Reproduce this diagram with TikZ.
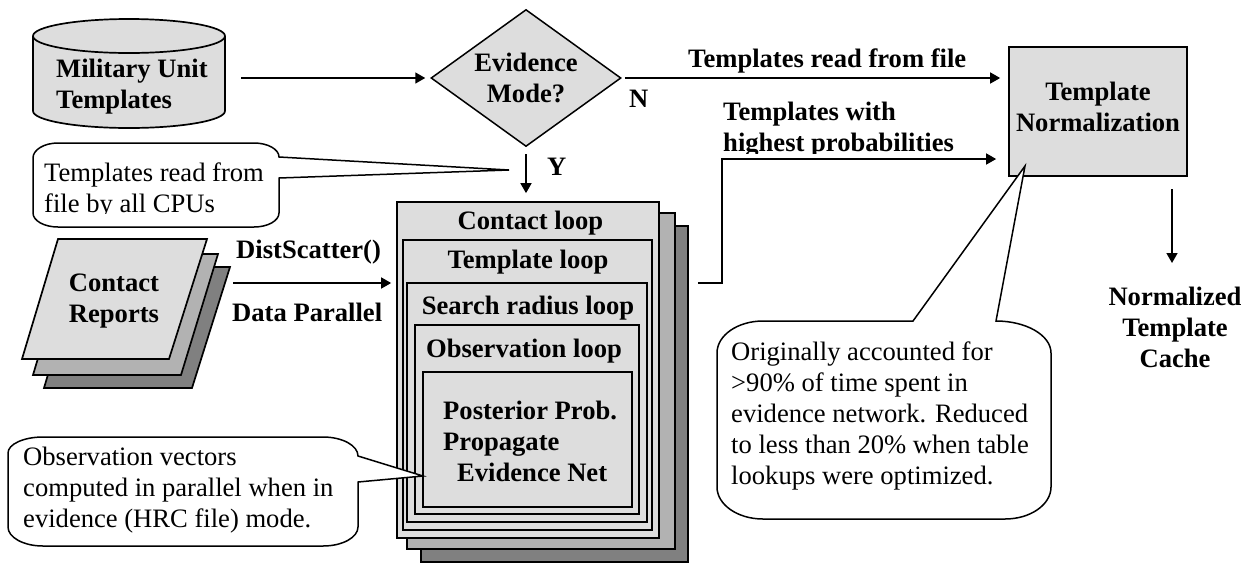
\documentclass[tikz,border=0pt]{standalone}
\usepackage{fontspec}
\setmainfont{Liberation Serif}
\usetikzlibrary{arrows.meta,shapes.geometric}
\tikzset{
  shape box/.style={draw=black,line width=1.7pt,fill=#1,inner sep=0pt},
  shape box/.default=boxgrey,
  bold text/.style={inner sep=0pt,font=\fontsize{26.6}{31}\selectfont\bfseries},
  plain text/.style={inner sep=0pt,font=\fontsize{26.6}{31}\selectfont},
  flow/.style={draw=black,line width=1.6pt,-{Triangle[length=10pt,width=11pt]}},
  callout/.style={draw=black,line width=1.5pt,fill=white,line join=miter},
  stack/.style={draw=black,line width=1.7pt,line join=miter}
}
\definecolor{boxgrey}{HTML}{DDDDDD}
\definecolor{midgrey}{HTML}{B2B2B2}
\definecolor{darkgrey}{HTML}{808080}
\newcommand{\sizedbox}[6]{% name, x1, y1, x2, y2, fill
  \node[shape box=#6,minimum width={(#4-#2)*1pt},minimum height={(#5-#3)*1pt},anchor=center]
    (#1) at ({(#2+#4)/2},{(#3+#5)/2}) {};}
\begin{document}
\begin{tikzpicture}[x=1pt,y=-1pt]
\useasboundingbox (0,0) rectangle (1249,563);

% database
\draw[stack,fill=boxgrey] (33,36) -- (33,111) arc[start angle=180,end angle=90,x radius=96,y radius=17]
  arc[start angle=90,end angle=0,x radius=96,y radius=17] -- (225,36)
  arc[start angle=360,end angle=180,x radius=96,y radius=17] -- cycle;
\draw[stack] (33,36) arc[start angle=180,end angle=0,x radius=96,y radius=17];
\node[bold text,align=left,anchor=north west] (mut) at (56,59) {Military Unit\\Templates};

% decision
\node[draw=black,line width=1.5pt,fill=boxgrey,diamond,aspect=1.39,minimum width=190pt,minimum height=137pt,inner sep=0pt,
      font=\fontsize{26.6}{31}\selectfont\bfseries,align=center] (dia) at (526,78) {Evidence\\Mode?};

% normalisation
\sizedbox{tn}{1009}{47}{1187}{176}{boxgrey}
\node[bold text,align=center,anchor=north] (tntext) at (1098,82) {Template\\Normalization};

% report stack
\draw[stack,fill=darkgrey] (80,267) -- (230,267) -- (192,388) -- (44,388) -- cycle;
\draw[stack,fill=midgrey] (69,254) -- (218,254) -- (181,375) -- (33,375) -- cycle;
\draw[stack,fill=boxgrey] (58,239) -- (207,239) -- (169,359) -- (22,359) -- cycle;
\node[bold text,align=center,anchor=north] (reports) at (114,274) {Contact\\Reports};

% nested loops
\sizedbox{layerc}{421}{226}{688}{562}{darkgrey}
\sizedbox{layerb}{407}{213}{675}{549}{midgrey}
\sizedbox{contact}{397}{202}{659}{538}{boxgrey}
\sizedbox{template}{403}{240}{652}{530}{boxgrey}
\sizedbox{search}{407}{283}{647}{522}{boxgrey}
\sizedbox{observation}{415}{325}{639}{514}{boxgrey}
\sizedbox{posterior}{423}{372}{632}{507}{boxgrey}
\node[bold text,anchor=base] (tcontact) at (530.5,229) {Contact loop};
\node[bold text,anchor=base] (ttemplate) at (528,268) {Template loop};
\node[bold text,anchor=base] (tsearch) at (528,314) {Search radius loop};
\node[bold text,anchor=base] (tobs) at (524,357) {Observation loop};
\node[bold text,align=left,anchor=north west] (tpost) at (443,401) {Posterior Prob.\\Propagate\\\hspace*{14pt}Evidence Net};

% connectors
\coordinate (mutout) at (241,78);
\coordinate (loopout) at (722,283);
\coordinate (loopup) at (722,159);
\coordinate (tnout) at (1172,189);
\coordinate (tnend) at (1172,263);
\coordinate (scatter) at (233,283);
\draw[flow,shorten >=5pt] (mutout) -- (dia.west);
\draw[flow,shorten <=3pt,shorten >=8pt] (dia.east) -- (dia.east -| tn.west);
\draw[flow,shorten <=7pt,shorten >=8pt] (dia.south) -- (dia.south |- contact.north);
\draw[flow,shorten <=9pt,shorten >=12pt] (layerc.east |- loopout) -- (loopout) -- (loopup) -- (loopup -| tn.west);
\draw[flow] (tnout) -- (tnend);
\draw[flow,shorten >=5pt] (scatter) -- (scatter -| contact.west);

% connector labels
\node[bold text,anchor=base west] (lfile) at (688,67) {Templates read from file};
\node[bold text,anchor=base west] (ln) at (629,107) {N};
\node[bold text,anchor=base west] (ly) at (547,175) {Y};
\begin{scope}
  \clip (700,90) rectangle (1000,153.5);
  \node[bold text,align=left,anchor=north west] (lhigh) at (723,102) {Templates with\\highest probabilities};
\end{scope}
\node[bold text,anchor=base west] (ldist) at (236,258) {DistScatter()};
\node[bold text,anchor=base west] (lpar) at (232,321) {Data Parallel};
\node[bold text,align=center,anchor=north] (cache) at (1175,287) {Normalized\\Template\\Cache};

% callout: templates
\draw[callout] (33,158) arc[start angle=180,end angle=270,x radius=25,y radius=15]
  -- (254,143) arc[start angle=270,end angle=360,x radius=25,y radius=14]
  -- (509,170) -- (279,178) -- (279,213)
  arc[start angle=0,end angle=90,x radius=25,y radius=14]
  -- (58,227) arc[start angle=90,end angle=180,x radius=25,y radius=14] -- cycle;
\begin{scope}
  \clip (36,150) rectangle (275,213.5);
  \node[plain text,align=left,anchor=north west] (ctemplates) at (44,163) {Templates read from\\file by all CPUs};
\end{scope}

% callout: observation
\draw[callout] (8,453) arc[start angle=180,end angle=270,x radius=35,y radius=16]
  -- (323,437) arc[start angle=270,end angle=360,x radius=35,y radius=19]
  -- (423,476) -- (358,482) -- (358,527)
  arc[start angle=0,end angle=90,x radius=35,y radius=19]
  -- (43,546) arc[start angle=90,end angle=180,x radius=35,y radius=19] -- cycle;
\node[plain text,align=left,anchor=north west] (cobs) at (23,447) {Observation vectors\\computed in parallel when in\\evidence (HRC file) mode.};

% callout: evidence
\draw[callout] (717,353) arc[start angle=180,end angle=270,x radius=46,y radius=32]
  -- (913,321) -- (1025,166) -- (996,321)
  arc[start angle=270,end angle=360,x radius=55,y radius=32]
  -- (1051,487) arc[start angle=0,end angle=90,x radius=46,y radius=32]
  -- (763,519) arc[start angle=90,end angle=180,x radius=46,y radius=32] -- cycle;
\node[plain text,align=left,anchor=north west] (cevid) at (731,342) {Originally accounted for\\>90\% of time spent in\\evidence network. Reduced\\to less than 20\% when table\\lookups were optimized.};
\end{tikzpicture}
\end{document}
